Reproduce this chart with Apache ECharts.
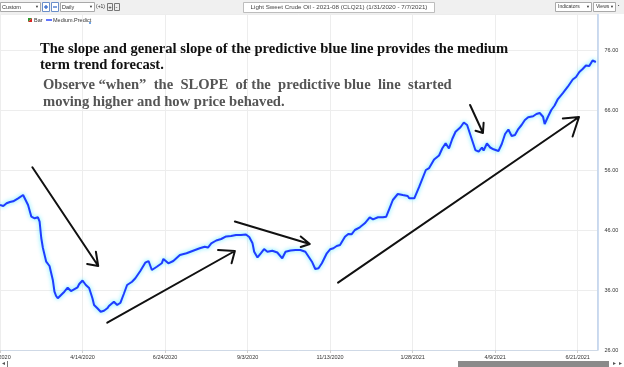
<!DOCTYPE html>
<html><head><meta charset="utf-8">
<script src="https://cdn.jsdelivr.net/npm/echarts@6/dist/echarts.min.js"></script>
<style>html,body{margin:0;padding:0;background:#fff}#c{width:624px;height:367px}</style>
</head><body><div id="c"></div>
<script>
// trading-day index (x) and Medium.Predict value (y)
const dayIndex = [0,2,4,6,8,11,14,15,17,19,21,23,24,25,26,28,30,32,33,34,35,37,39,41,43,44,47,48,50,52,54,56,57,59,61,63,65,66,69,71,73,75,77,80,82,85,88,90,92,95,98,99,102,105,109,113,117,121,124,126,128,131,134,137,140,143,146,149,151,153,154,156,158,160,162,165,168,171,173,176,179,182,185,187,189,191,193,195,196,198,200,202,204,206,209,211,213,215,218,221,224,226,229,232,234,236,238,241,244,247,248,251,254,258,260,263,266,268,270,272,274,276,279,281,283,285,286,288,290,292,293,295,297,299,302,304,306,308,310,312,314,316,318,320,323,325,327,329,330,332,334,336,338,341,344,347,349,351,353,355,357,359,361];
const mediumPredict = [50.17,50.0,50.45,50.67,50.78,51.28,51.83,51.67,50.17,48.22,47.95,48.12,47.38,44.67,43.0,40.72,40.0,37.67,35.72,35.0,34.62,35.17,35.72,36.38,35.83,35.62,36.45,37.0,37.58,36.83,36.33,34.62,33.5,32.95,32.38,32.55,32.95,33.33,34.05,33.5,33.88,35.33,36.83,37.38,37.95,39.17,40.55,40.83,39.33,39.88,40.45,41.17,40.45,40.83,41.83,42.12,42.55,42.95,43.22,43.08,43.78,44.25,44.5,44.92,45.0,45.17,45.17,45.25,44.83,43.78,42.38,41.42,42.12,42.83,42.38,42.55,42.25,41.28,42.38,42.58,42.67,42.67,42.38,41.55,40.72,39.5,39.62,40.45,40.72,42.12,42.78,42.95,43.33,43.5,44.88,45.33,45.28,46.0,46.45,47.12,48.12,47.78,48.12,48.12,48.22,49.62,51.0,52.0,51.83,51.67,51.28,51.28,53.22,56.0,56.33,57.75,58.42,59.62,60.45,59.58,61.17,62.38,63.12,63.92,63.5,61.83,61.0,59.33,59.05,59.75,59.25,60.42,59.75,59.45,59.17,60.33,62.0,62.75,61.67,61.83,62.83,63.5,64.33,64.78,64.95,65.33,65.5,64.88,63.67,64.88,66.0,66.75,67.83,68.83,69.88,71.08,71.5,72.33,72.83,73.42,73.33,74.25,74.0];
const xTickLabels = ['2/3/2020','4/14/2020','6/24/2020','9/3/2020','11/13/2020','1/28/2021','4/9/2021','6/21/2021'];
const yTickValues = [26,36,46,56,66,76];
// hand-drawn arrows: start, tip, arm, tip, arm (data units)
const arrow1 = [[19.6,56.45],[59.5,40.0],[52.8,40.33],[59.5,40.0],[58.1,42.38]];
const arrow2 = [[65.0,30.55],[142.3,42.5],[132.1,42.67],[142.3,42.5],[140.3,40.45]];
const arrow3 = [[142.3,47.42],[187.7,43.67],[182.2,44.92],[187.7,43.67],[182.2,43.17]];
const arrow4 = [[204.8,37.22],[350.8,64.83],[341.0,64.58],[350.8,64.83],[346.9,61.58]];
const arrow5 = [[284.8,66.83],[292.6,62.17],[288.1,62.55],[292.6,62.17],[293.0,63.88]];
const headline = ['The slope and general slope of the predictive blue line provides the medium','term trend forecast.'];
const subline = ['Observe \u201cwhen\u201d  the  SLOPE  of the  predictive blue  line  started','moving higher and how price behaved.'];
const chartTitle = 'Light Sweet Crude Oil - 2021-08 (CLQ21) (1/31/2020 - 7/7/2021)';

const chart = echarts.init(document.getElementById('c'), null, {renderer:'canvas'});
const arrowSeries = [arrow1,arrow2,arrow3,arrow4,arrow5].map(a => ({
  type:'line', data:a, symbol:'none', silent:true, z:5,
  lineStyle:{color:'#111', width:2, cap:'round', join:'round'}
}));
const uiFont = 'Liberation Sans';
function box(x,y,w,h,fill,stroke){return {type:'rect',z:2,shape:{x:x,y:y,width:w,height:h},style:{fill:fill||'#fff',stroke:stroke||'#a9a9a9',lineWidth:1}};}
function txt(x,y,s,size,color,extra){return Object.assign({type:'text',z:3,x:x,y:y,style:{text:s,fontSize:size||6,fontFamily:uiFont,fill:color||'#333',textVerticalAlign:'middle'}},extra||{});}
const graphics = [
  {type:'rect',z:1,shape:{x:0,y:0,width:624,height:14},style:{fill:'#f0f0f0'}},
  box(0.5,2.5,40,9), txt(2,7,'Custom',5.5,'#333'), txt(35,7,'\u25bc',4,'#333'),
  box(42.5,2.5,7,9,'#fff','#6b8fc9'), {type:'rect',z:3,shape:{x:44,y:6.4,width:4,height:1.2},style:{fill:'#2a63c9'}}, {type:'rect',z:3,shape:{x:45.4,y:5,width:1.2,height:4},style:{fill:'#2a63c9'}},
  box(51.5,2.5,7,9,'#fff','#6b8fc9'), {type:'rect',z:3,shape:{x:53,y:6.4,width:4,height:1.2},style:{fill:'#2a63c9'}},
  box(60.5,2.5,34,9), txt(62,7,'Daily',5.5,'#333'), txt(89,7,'\u25bc',4,'#333'),
  txt(96,7,'(+1)',5,'#333'),
  box(107.5,3.5,5,7,'#eee','#777'), txt(108.3,7,'+',6,'#111'),
  box(114.5,3.5,5,7,'#eee','#777'), txt(115.6,7,'-',6,'#111'),
  box(243.5,2.5,191,10,'#fff','#bdbdbd'),
  {type:'text',z:3,x:339,y:7.5,style:{text:chartTitle,fontSize:6.2,fontFamily:uiFont,fill:'#444',textAlign:'center',textVerticalAlign:'middle'}},
  box(555.5,2.5,36,9), txt(558,7,'Indicators',5,'#333'), txt(586,7,'\u25bc',4,'#333'),
  box(593.5,2.5,22,9), txt(596,7,'Views',5,'#333'), txt(610,7,'\u25bc',4,'#333'),
  txt(618,6,'\u25aa',4,'#555'),
  // legend
  {type:'polygon',z:3,shape:{points:[[28,18],[32,18],[28,22]]},style:{fill:'#2e9a2e'}},
  {type:'polygon',z:3,shape:{points:[[32,18],[32,22],[28,22]]},style:{fill:'#d22'}},
  txt(34,20,'Bar',5.5,'#333'),
  {type:'rect',z:3,shape:{x:46,y:19.3,width:6,height:1.4},style:{fill:'#1f3cff'}},
  txt(53,20,'Medium.Predict',5.5,'#333'),
  {type:'circle',z:3,shape:{cx:90,cy:23,r:0.9},style:{fill:'#2a7ad8'}},
  // annotation texts
  {type:'text',z:10,x:40,y:49,style:{text:headline[0],fontFamily:'Liberation Serif',fontWeight:'bold',fontSize:14.6,fill:'#111',textVerticalAlign:'middle'}},
  {type:'text',z:10,x:40,y:65,style:{text:headline[1],fontFamily:'Liberation Serif',fontWeight:'bold',fontSize:14.6,fill:'#111',textVerticalAlign:'middle'}},
  {type:'text',z:10,x:43,y:85,style:{text:subline[0],fontFamily:'Liberation Serif',fontWeight:'bold',fontSize:14.6,fill:'#555',textVerticalAlign:'middle'}},
  {type:'text',z:10,x:43,y:102,style:{text:subline[1],fontFamily:'Liberation Serif',fontWeight:'bold',fontSize:14.6,fill:'#555',textVerticalAlign:'middle'}},
  // bottom scroll bar
  txt(1,364,'\u25c4',5,'#555'), {type:'rect',z:3,shape:{x:7,y:361,width:1,height:6},style:{fill:'#777'}},
  {type:'rect',z:3,shape:{x:458,y:361,width:151,height:6},style:{fill:'#8a8a8a'}},
  txt(612,364,'\u25ba',5,'#555'), txt(618,364,'\u25ba',5,'#555')
];

chart.setOption({
  animation:false,
  backgroundColor:'#fff',
  grid:{left:0, right:26.5, top:14, bottom:17, containLabel:false, outerBoundsMode:'none'},
  xAxis:{
    type:'value', min:0, max:362, interval:50,
    axisLine:{show:true, onZero:false, lineStyle:{color:'#cfd9e6', width:1}},
    axisTick:{show:true, length:3, lineStyle:{color:'#cfcfcf'}},
    splitLine:{show:true, lineStyle:{color:'#ededed', width:1}},
    axisLabel:{showMaxLabel:false, hideOverlap:false, fontSize:5.5, color:'#333', margin:4, fontFamily:uiFont,
      formatter:v => xTickLabels[Math.round(v/50)] || ''}
  },
  yAxis:{
    type:'value', position:'right', min:26, max:82, interval:10,
    axisLine:{show:true, onZero:false, lineStyle:{color:'#bcd0ec', width:1.5}},
    axisTick:{show:false},
    splitLine:{show:true, lineStyle:{color:'#ededed', width:1}},
    axisLabel:{showMaxLabel:false, fontSize:5.5, color:'#333', margin:7, fontFamily:uiFont,
      formatter:v => yTickValues.indexOf(v) >= 0 ? v.toFixed(2) : ''}
  },
  series:[{
    type:'line', name:'Medium.Predict', data:dayIndex.map((d,i)=>[d, mediumPredict[i]]),
    symbol:'none', smooth:false, z:4,
    lineStyle:{color:'#1f3cff', width:2, shadowColor:'rgba(60,230,255,0.9)', shadowBlur:4}
  }].concat(arrowSeries),
  graphic:graphics
});
</script></body></html>
